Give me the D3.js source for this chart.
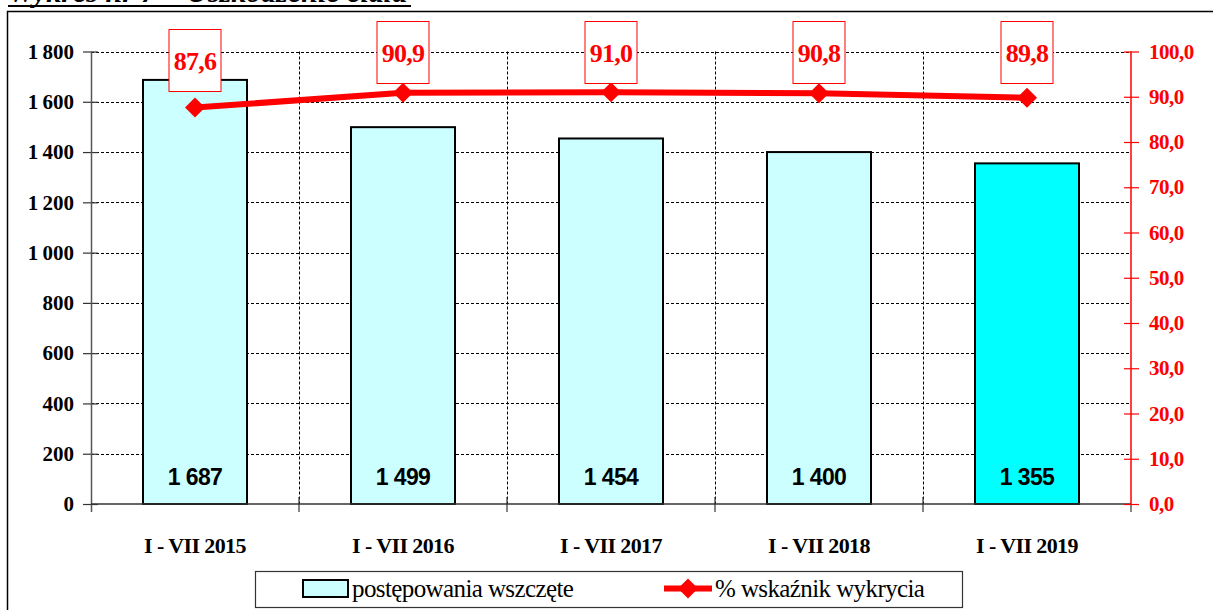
<!DOCTYPE html>
<html>
<head>
<meta charset="utf-8">
<script src="https://cdn.jsdelivr.net/npm/d3@7"></script>
<style>
  html, body { margin: 0; padding: 0; background: #fff; }
  svg { display: block; }
</style>
</head>
<body>
<svg id="chart" width="1213" height="610"></svg>
<script>
const categories = ["I - VII 2015", "I - VII 2016", "I - VII 2017", "I - VII 2018", "I - VII 2019"];
const cases = [1687, 1499, 1454, 1400, 1355];
const detection = [87.6, 90.9, 91.0, 90.8, 89.8];
const leftTicks = [0, 200, 400, 600, 800, 1000, 1200, 1400, 1600, 1800];
const rightTicks = [0, 10, 20, 30, 40, 50, 60, 70, 80, 90, 100];

const serif = "'Liberation Serif', 'Times New Roman', serif";
const sans = "'Liberation Sans', Arial, sans-serif";
const RED = "#ff0000";

const svg = d3.select("#chart");
const m = { left: 91, right: 1131, top: 51.5, bottom: 504 };

const x = d3.scaleBand().domain(categories).range([m.left, m.right]).paddingInner(0);
const y = d3.scaleLinear().domain([0, 1800]).range([m.bottom, m.top]);
const y2 = d3.scaleLinear().domain([0, 100]).range([m.bottom, m.top]);

const fmtInt = (v) => d3.format(",")(v).replace(/,/g, "\u2009");
const fmtDec = (v) => d3.format(".1f")(v).replace(".", ",");

// title, its top is cut by the page edge like in the source
svg.append("text").attr("x", 8).attr("y", 2)
  .attr("font-family", serif).attr("font-size", 30).attr("font-weight", "bold").attr("font-style", "italic")
  .text("Wykres nr 7 – Uszkodzenie ciała");
svg.append("line").attr("x1", 8).attr("x2", 411).attr("y1", 6).attr("y2", 6)
  .attr("stroke", "#000").attr("stroke-width", 2);

// outer frame
svg.append("rect").attr("x", 7.5).attr("y", 11.5).attr("width", 1220).attr("height", 620)
  .attr("fill", "none").attr("stroke", "#000").attr("stroke-width", 1.5);

// gridlines
svg.append("g").selectAll("line").data(leftTicks.filter((d) => d > 0)).join("line")
  .attr("x1", m.left).attr("x2", m.right)
  .attr("y1", (d) => Math.round(y(d)) + 0.5).attr("y2", (d) => Math.round(y(d)) + 0.5)
  .attr("stroke", "#000").attr("stroke-width", 1).attr("stroke-dasharray", "3,2");
svg.append("g").selectAll("line").data(categories.slice(1)).join("line")
  .attr("x1", (d) => Math.round(x(d)) + 0.5).attr("x2", (d) => Math.round(x(d)) + 0.5)
  .attr("y1", m.top).attr("y2", m.bottom)
  .attr("stroke", "#000").attr("stroke-width", 1).attr("stroke-dasharray", "3,2");

// bars
const bw = x.bandwidth() * 0.5;
svg.append("g").selectAll("rect").data(cases).join("rect")
  .attr("x", (d, i) => x(categories[i]) + (x.bandwidth() - bw) / 2)
  .attr("y", (d) => y(d))
  .attr("width", bw)
  .attr("height", (d) => m.bottom - y(d))
  .attr("fill", (d, i) => (i === cases.length - 1 ? "#00ffff" : "#ccffff"))
  .attr("stroke", "#000").attr("stroke-width", 2);

svg.append("g").selectAll("text").data(cases).join("text")
  .attr("x", (d, i) => x(categories[i]) + x.bandwidth() / 2)
  .attr("y", 485)
  .attr("text-anchor", "middle")
  .attr("font-family", sans).attr("font-size", 23).attr("font-weight", "bold").attr("letter-spacing", -0.6)
  .text((d) => fmtInt(d).replace("\u2009", " "));

// left axis
const leftAxis = d3.axisLeft(y).tickValues(leftTicks).tickSize(0).tickPadding(17).tickFormat(fmtInt);
const gl = svg.append("g").attr("transform", `translate(${m.left},0)`).call(leftAxis);
gl.select(".domain").remove();
gl.selectAll("text").attr("font-family", serif).attr("font-size", 21).attr("font-weight", "bold").attr("fill", "#000");
gl.append("line").attr("x1", 0.5).attr("x2", 0.5).attr("y1", m.top).attr("y2", m.bottom + 8).attr("stroke", "#555").attr("stroke-width", 1.5);
gl.selectAll(".tick").append("line").attr("x1", -8).attr("x2", 7).attr("stroke", "#333").attr("stroke-width", 1.2);

// bottom axis
svg.append("line").attr("x1", m.left).attr("x2", m.right).attr("y1", m.bottom).attr("y2", m.bottom)
  .attr("stroke", "#333").attr("stroke-width", 1.5);
svg.append("g").selectAll("line").data(categories.slice(1)).join("line")
  .attr("x1", (d) => x(d)).attr("x2", (d) => x(d))
  .attr("y1", m.bottom - 7).attr("y2", m.bottom + 8)
  .attr("stroke", "#333").attr("stroke-width", 1.2);
svg.append("line").attr("x1", m.right).attr("x2", m.right).attr("y1", m.bottom).attr("y2", m.bottom + 8)
  .attr("stroke", "#333").attr("stroke-width", 1.2);
svg.append("g").selectAll("text").data(categories).join("text")
  .attr("x", (d) => x(d) + x.bandwidth() / 2)
  .attr("y", 553)
  .attr("text-anchor", "middle")
  .attr("font-family", serif).attr("font-size", 22).attr("font-weight", "bold").attr("letter-spacing", -0.6)
  .text((d) => d);

// right axis
const rightAxis = d3.axisRight(y2).tickValues(rightTicks).tickSize(0).tickPadding(18).tickFormat(fmtDec);
const gr = svg.append("g").attr("transform", `translate(${m.right},0)`).call(rightAxis);
gr.select(".domain").remove();
gr.selectAll("text").attr("font-family", serif).attr("font-size", 21).attr("font-weight", "bold").attr("fill", RED).attr("letter-spacing", -0.5);
gr.append("line").attr("x1", 0).attr("x2", 0).attr("y1", m.top).attr("y2", m.bottom).attr("stroke", RED).attr("stroke-width", 1.5);
gr.selectAll(".tick").append("line").attr("x1", -7).attr("x2", 8).attr("stroke", RED).attr("stroke-width", 1.2);

// detection line
const cx = (i) => x(categories[i]) + x.bandwidth() / 2;
const line = d3.line().x((d, i) => cx(i)).y((d) => y2(d));
svg.append("path").datum(detection).attr("d", line)
  .attr("fill", "none").attr("stroke", RED).attr("stroke-width", 6).attr("stroke-linejoin", "round");
const diamond = d3.symbol().type(d3.symbolSquare).size(200);
svg.append("g").selectAll("path").data(detection).join("path")
  .attr("d", diamond)
  .attr("transform", (d, i) => `translate(${cx(i)},${y2(d)}) rotate(45)`)
  .attr("fill", RED);

// value labels in boxes
const lbl = svg.append("g").selectAll("g").data(detection).join("g")
  .attr("transform", (d, i) => `translate(${cx(i)},${Math.max(21, y2(d) - 78.6)})`);
lbl.append("rect").attr("x", -26).attr("y", 0.5).attr("width", 52).attr("height", 62)
  .attr("fill", "#fff").attr("stroke", RED).attr("stroke-width", 1);
lbl.append("text").attr("x", 0).attr("y", 41)
  .attr("text-anchor", "middle")
  .attr("font-family", serif).attr("font-size", 26).attr("font-weight", "bold").attr("fill", RED).attr("letter-spacing", -0.8)
  .text((d) => fmtDec(d));

// legend
const lg = svg.append("g");
lg.append("rect").attr("x", 255.5).attr("y", 571.5).attr("width", 707).attr("height", 36)
  .attr("fill", "#fff").attr("stroke", "#333").attr("stroke-width", 1.2);
lg.append("rect").attr("x", 303).attr("y", 580).attr("width", 45).attr("height", 17)
  .attr("fill", "#ccffff").attr("stroke", "#000").attr("stroke-width", 2);
lg.append("text").attr("x", 352).attr("y", 597)
  .attr("font-family", serif).attr("font-size", 25).attr("letter-spacing", -0.6)
  .text("postępowania wszczęte");
lg.append("line").attr("x1", 664).attr("x2", 712).attr("y1", 588.5).attr("y2", 588.5)
  .attr("stroke", RED).attr("stroke-width", 6);
lg.append("path").attr("d", diamond).attr("transform", "translate(688,588.5) rotate(45)").attr("fill", RED);
lg.append("text").attr("x", 715).attr("y", 597)
  .attr("font-family", serif).attr("font-size", 25).attr("letter-spacing", -0.6)
  .text("% wskaźnik wykrycia");
</script>
</body>
</html>
